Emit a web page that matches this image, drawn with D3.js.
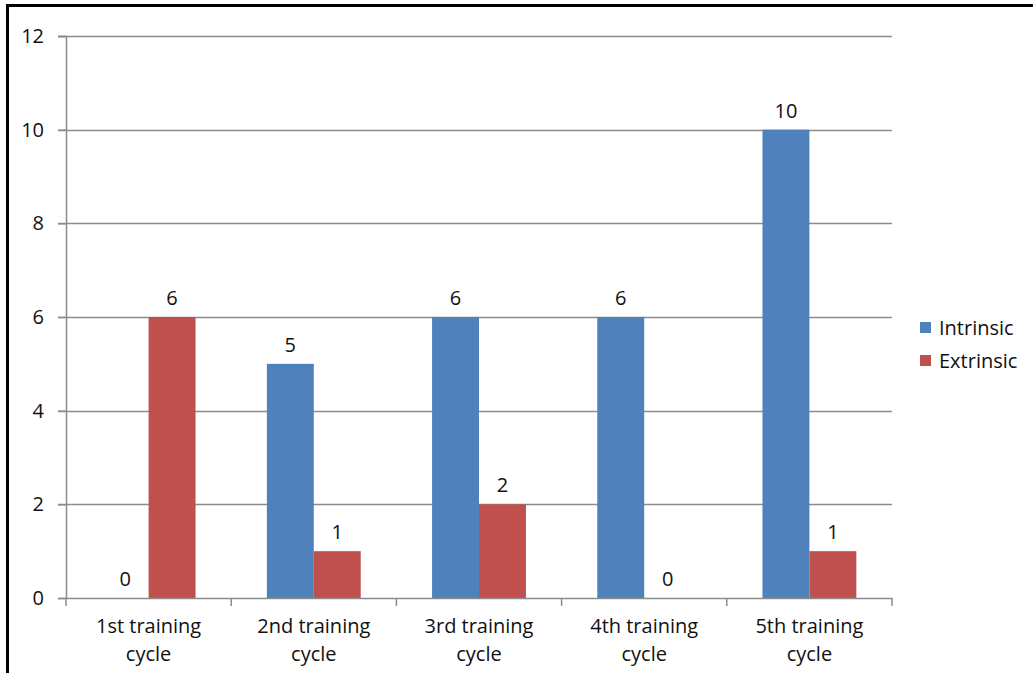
<!DOCTYPE html>
<html>
<head>
<meta charset="utf-8">
<script src="https://cdn.jsdelivr.net/npm/d3@7"></script>
<style>
  body { margin: 0; background: #fff; }
  svg text { font-family: "Open Sans", "Noto Sans", sans-serif; fill: #111; }
</style>
</head>
<body>
<div id="my_dataviz"></div>
<script>
var categories = ["1st training cycle", "2nd training cycle", "3rd training cycle", "4th training cycle", "5th training cycle"];
var seriesNames = ["Intrinsic", "Extrinsic"];
var intrinsic = [0, 5, 6, 6, 10];
var extrinsic = [6, 1, 2, 0, 1];
var yTicks = [0, 2, 4, 6, 8, 10, 12];
var colors = ["#4F81BD", "#C0504D"];

var totalW = 1033, totalH = 673;
var margin = {top: 36, right: 141, bottom: 75, left: 66},
    width = totalW - margin.left - margin.right,
    height = totalH - margin.top - margin.bottom;

var root = d3.select("#my_dataviz")
  .append("svg")
    .attr("width", totalW)
    .attr("height", totalH);

// outer frame
root.append("rect")
  .attr("x", 7.5).attr("y", 5.5)
  .attr("width", 1030).attr("height", 700)
  .attr("fill", "none")
  .attr("stroke", "#000")
  .attr("stroke-width", 3);

var svg = root.append("g")
  .attr("transform", "translate(" + margin.left + "," + margin.top + ")");

var x = d3.scaleBand()
  .domain(categories)
  .range([0, width])
  .paddingInner(0)
  .paddingOuter(0);

var x1 = d3.scaleBand()
  .domain(seriesNames)
  .range([0, x.bandwidth()])
  .paddingInner(0)
  .paddingOuter(0.76);

var y = d3.scaleLinear()
  .domain([0, 12])
  .range([height, 0]);

// gridlines
svg.selectAll(".grid")
  .data(yTicks.filter(function(d) { return d > 0; }))
  .enter()
  .append("line")
    .attr("x1", -8)
    .attr("x2", width)
    .attr("y1", function(d) { return Math.round(y(d)) + 0.5; })
    .attr("y2", function(d) { return Math.round(y(d)) + 0.5; })
    .attr("stroke", "#8c8c8c")
    .attr("stroke-width", 1.5);

// y axis
var yAxis = svg.append("g")
  .call(d3.axisLeft(y).tickValues(yTicks).tickSize(8).tickPadding(14));
yAxis.select(".domain").attr("stroke", "#8c8c8c").attr("stroke-width", 1.5);
yAxis.selectAll(".tick line").attr("stroke", "#8c8c8c").attr("stroke-width", 1.5);
yAxis.selectAll("text").style("font-size", "20px").attr("fill", "#111");

// bars
var rows = categories.map(function(c, i) {
  return {cat: c, values: [intrinsic[i], extrinsic[i]]};
});

var groups = svg.selectAll(".grp")
  .data(rows)
  .enter()
  .append("g")
    .attr("transform", function(d) { return "translate(" + x(d.cat) + ",0)"; });

groups.selectAll("rect")
  .data(function(d) { return d.values.map(function(v, j) { return {name: seriesNames[j], value: v, j: j}; }); })
  .enter()
  .append("rect")
    .attr("x", function(d) { return x1(d.name); })
    .attr("y", function(d) { return y(d.value); })
    .attr("width", x1.bandwidth())
    .attr("height", function(d) { return height - y(d.value); })
    .attr("fill", function(d) { return colors[d.j]; });

groups.selectAll(".lbl")
  .data(function(d) { return d.values.map(function(v, j) { return {name: seriesNames[j], value: v}; }); })
  .enter()
  .append("text")
    .attr("x", function(d) { return x1(d.name) + x1.bandwidth() / 2; })
    .attr("y", function(d) { return y(d.value) - 12; })
    .attr("text-anchor", "middle")
    .style("font-size", "20px")
    .text(function(d) { return d.value; });

// x axis
var xAxis = svg.append("g")
  .attr("transform", "translate(0," + height + ")")
  .call(d3.axisBottom(x).tickSize(0).tickFormat(""));
xAxis.select(".domain").attr("stroke", "#8c8c8c").attr("stroke-width", 1.5);

svg.append("g")
  .selectAll("line")
  .data(d3.range(categories.length + 1))
  .enter()
  .append("line")
    .attr("x1", function(i) { return i * x.step(); })
    .attr("x2", function(i) { return i * x.step(); })
    .attr("y1", height)
    .attr("y2", height + 8)
    .attr("stroke", "#8c8c8c")
    .attr("stroke-width", 1.5);

svg.selectAll(".xlbl")
  .data(categories)
  .enter()
  .append("text")
    .attr("x", function(d) { return x(d) + x.bandwidth() / 2; })
    .attr("y", height + 35)
    .attr("text-anchor", "middle")
    .style("font-size", "20px")
    .each(function(d) {
      var parts = d.split(" ");
      var t = d3.select(this);
      t.append("tspan").attr("x", x(d) + x.bandwidth() / 2).text(parts[0] + " " + parts[1]);
      t.append("tspan").attr("x", x(d) + x.bandwidth() / 2).attr("dy", 28).text(parts[2]);
    });

// legend
var legend = root.append("g")
  .attr("transform", "translate(920,322)");

legend.selectAll("rect")
  .data(seriesNames)
  .enter()
  .append("rect")
    .attr("x", 0)
    .attr("y", function(d, i) { return i * 33; })
    .attr("width", 11)
    .attr("height", 11)
    .attr("fill", function(d, i) { return colors[i]; });

legend.selectAll("text")
  .data(seriesNames)
  .enter()
  .append("text")
    .attr("x", 19)
    .attr("y", function(d, i) { return i * 33 + 6; })
    .attr("dy", "0.35em")
    .style("font-size", "20px")
    .text(function(d) { return d; });
</script>
</body>
</html>
